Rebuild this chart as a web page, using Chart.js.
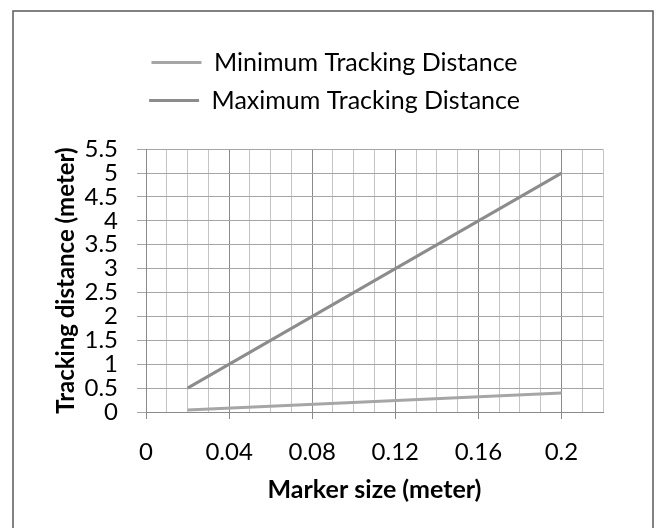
<!DOCTYPE html>
<html>
<head>
<meta charset="utf-8">
<script src="https://cdn.jsdelivr.net/npm/chart.js@4/dist/chart.umd.min.js"></script>
<style>
  html, body { margin: 0; padding: 0; background: #ffffff; }
  #wrap { width: 657px; height: 528px; position: relative; }
</style>
</head>
<body>
<div id="wrap"><canvas id="c" width="657" height="528"></canvas></div>
<script>
// Marker size (m) against tracking distance (m)
const markerSize = [0.02, 0.2];
const minDistance = [0.04, 0.4];
const maxDistance = [0.5, 5];
const seriesNames = ['Minimum Tracking Distance', 'Maximum Tracking Distance'];
const xTickLabels = ['0', '0.04', '0.08', '0.12', '0.16', '0.2'];
const yTickLabels = ['0', '0.5', '1', '1.5', '2', '2.5', '3', '3.5', '4', '4.5', '5', '5.5'];
const xAxisTitle = 'Marker size (meter)';
const yAxisTitle = 'Tracking distance (meter)';

const FONT = 'Lato, "Open Sans", sans-serif';

function toPoints(xs, ys) {
  return xs.map((x, i) => ({ x: x, y: ys[i] }));
}

// Frame around the whole chart area
const framePlugin = {
  id: 'frame',
  afterDraw(chart) {
    const ctx = chart.ctx;
    ctx.save();
    ctx.lineWidth = 1.5;
    ctx.strokeStyle = '#595959';
    ctx.beginPath();
    ctx.moveTo(13, 540);
    ctx.lineTo(13, 11);
    ctx.lineTo(653, 11);
    ctx.lineTo(653, 540);
    ctx.stroke();
    ctx.restore();
  }
};

// Nudge the centred legend block a little to the right
const legendShift = {
  id: 'legendShift',
  afterLayout(chart) {
    if (chart.legend) {
      chart.legend.left += 13;
      chart.legend.right += 13;
    }
  }
};

const isMajorX = v => Math.round(v * 100) % 4 === 0;

new Chart(document.getElementById('c'), {
  type: 'line',
  data: {
    datasets: [
      {
        label: seriesNames[0],
        data: toPoints(markerSize, minDistance),
        borderColor: '#a6a6a6',
        backgroundColor: '#a6a6a6',
        borderWidth: 3,
        pointRadius: 0,
        tension: 0
      },
      {
        label: seriesNames[1],
        data: toPoints(markerSize, maxDistance),
        borderColor: '#8c8c8c',
        backgroundColor: '#8c8c8c',
        borderWidth: 3,
        pointRadius: 0,
        tension: 0
      }
    ]
  },
  options: {
    responsive: false,
    animation: false,
    devicePixelRatio: 1,
    layout: { padding: { left: 40, right: 54, top: 37, bottom: 23 } },
    plugins: {
      tooltip: { enabled: false },
      legend: {
        position: 'top',
        weight: 3000,
        labels: {
          usePointStyle: true,
          pointStyle: 'line',
          pointStyleWidth: 50,
          color: '#000000',
          padding: 13,
          font: { family: FONT, size: 25 }
        }
      },
      // empty spacer between legend and plot
      title: {
        display: true,
        text: '',
        font: { size: 1 },
        padding: { top: 0, bottom: 25 }
      }
    },
    scales: {
      x: {
        type: 'linear',
        min: 0,
        max: 0.22,
        afterFit(scale) { scale.height = 93; },
        ticks: {
          stepSize: 0.01,
          autoSkip: false,
          maxRotation: 0,
          padding: 19,
          color: '#000000',
          font: { family: FONT, size: 24 },
          callback: function (v) {
            if (!isMajorX(v)) return '';
            const idx = Math.round(v * 100) / 4;
            return xTickLabels[idx] !== undefined ? xTickLabels[idx] : '';
          }
        },
        grid: {
          color: c => (c.tick && isMajorX(c.tick.value)) ? '#8a8a8a' : '#c4c4c4',
          tickColor: c => (c.tick && isMajorX(c.tick.value)) ? '#8a8a8a' : 'rgba(0,0,0,0)',
          tickLength: 7,
          lineWidth: 1
        },
        border: { color: '#8a8a8a' },
        title: {
          display: true,
          text: xAxisTitle,
          color: '#000000',
          font: { family: FONT, size: 25, weight: 'bold' },
          padding: { top: 2, bottom: 0 }
        }
      },
      y: {
        type: 'linear',
        min: 0,
        max: 5.5,
        afterFit(scale) { scale.width = 106; },
        ticks: {
          stepSize: 0.5,
          autoSkip: false,
          padding: 19,
          color: '#000000',
          font: { family: FONT, size: 24 },
          callback: function (v) {
            const idx = Math.round(v * 2);
            return yTickLabels[idx] !== undefined ? yTickLabels[idx] : '';
          }
        },
        grid: {
          color: '#a6a6a6',
          tickColor: '#a6a6a6',
          tickLength: 9,
          lineWidth: 1
        },
        border: { color: '#8a8a8a' },
        title: {
          display: true,
          text: yAxisTitle,
          color: '#000000',
          font: { family: FONT, size: 24, weight: 'bold' },
          padding: { top: 12, bottom: 5 }
        }
      }
    }
  },
  plugins: [framePlugin, legendShift]
});
</script>
</body>
</html>
